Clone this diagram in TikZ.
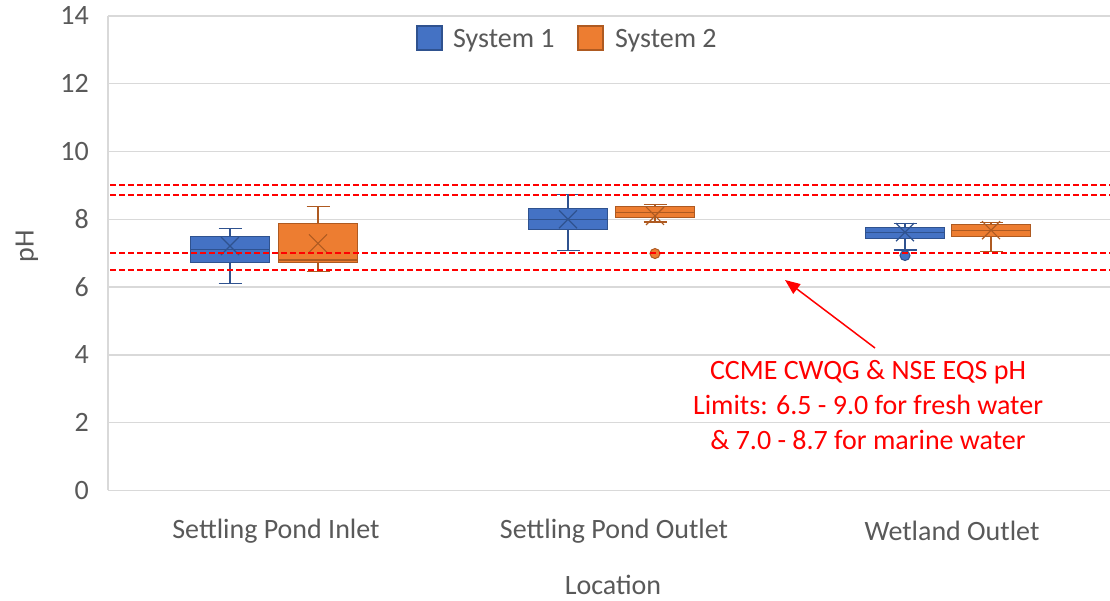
\documentclass[tikz,border=0pt]{standalone}
\usepackage{fontspec}
\setmainfont{Carlito}
\usetikzlibrary{arrows.meta}
\definecolor{txt}{HTML}{595959}
\definecolor{gridc}{HTML}{D9D9D9}
\definecolor{bfill}{HTML}{4472C4}
\definecolor{bline}{HTML}{2F528F}
\definecolor{ofill}{HTML}{ED7D31}
\definecolor{oline}{HTML}{AE5A21}
\definecolor{limred}{HTML}{FF0000}
\tikzset{
  lbl/.style={font=\fontsize{28}{34}\selectfont, text=txt, inner sep=0pt},
  gridline/.style={draw=gridc, line width=1.5pt},
  limit/.style={draw=limred, line width=1.6pt, dash pattern=on 6pt off 3pt},
  boxB/.style={fill=bfill, draw=bline, line width=1.2pt},
  boxO/.style={fill=ofill, draw=oline, line width=1.2pt},
  lineB/.style={draw=bline, line width=1.6pt},
  lineO/.style={draw=oline, line width=1.6pt},
  meanB/.style={draw=bline, line width=1.2pt},
  meanO/.style={draw=oline, line width=1.2pt},
  outB/.style={fill=bfill, draw=bline, line width=1pt},
  outO/.style={fill=ofill, draw=oline, line width=1pt},
}
% #1 cx, #2 min, #3 q1, #4 med, #5 q3, #6 max, #7 mean, #8 B/O
\newcommand\bxplot[8]{%
  \draw[line#8] (#1,#2) -- (#1,#3) (#1,#5) -- (#1,#6)
    (#1-11.5,#2) -- (#1+11.5,#2) (#1-11.5,#6) -- (#1+11.5,#6);
  \filldraw[box#8] (#1-39.5,#3) rectangle (#1+39.5,#5);
  \draw[mean#8] (#1-39.5,#4) -- (#1+39.5,#4);
  \draw[mean#8] (#1,#7) ++(-9pt,-9pt) -- ++(18pt,18pt)
    (#1,#7) ++(-9pt,9pt) -- ++(18pt,-18pt);
}
\begin{document}
\begin{tikzpicture}[x=1pt,y=1pt]
\useasboundingbox[fill=white] (0,0) rectangle (1110,601);
\begin{scope}[y=33.9pt, yshift=110.5pt]
  % grid
  \foreach \v in {2,4,...,14} \draw[gridline] (108,\v) -- (1110,\v);
  \draw[gridline] (108,0) -- (1110,0);
  \draw[gridline] (108,0) -- (108,14);
  \foreach \v in {0,2,...,14} \node[lbl, anchor=east] (t\v) at (89,\v) {\v};
  % boxes
  \bxplot{230}{6.11}{6.73}{7.11}{7.49}{7.73}{7.21}{B}
  \bxplot{318}{6.46}{6.73}{6.80}{7.88}{8.38}{7.29}{O}
  \bxplot{568}{7.08}{7.70}{7.99}{8.32}{8.73}{8.00}{B}
  \bxplot{655}{7.92}{8.05}{8.20}{8.38}{8.44}{8.10}{O}
  \bxplot{905}{7.10}{7.43}{7.60}{7.76}{7.87}{7.62}{B}
  \bxplot{991}{7.05}{7.49}{7.67}{7.85}{7.90}{7.68}{O}
  \filldraw[outO] (655,6.99) circle (5pt);
  \filldraw[outB] (905,6.93) circle (5pt);
  % limit lines
  \draw[limit] (110,6.5) -- (1110,6.5) (110,7.0) -- (1110,7.0)
               (110,8.72) -- (1110,8.72) (110,9.02) -- (1110,9.02);
\end{scope}
% axis labels
\node[lbl] (c1) at (276,70) {Settling Pond Inlet};
\node[lbl] (c2) at (614,70) {Settling Pond Outlet};
\node[lbl] (c3) at (952,70) {Wetland Outlet};
\node[lbl] (xl) at (613,16) {Location};
\node[lbl, rotate=90] (yl) at (27,355) {pH};
% legend
\node[boxB, minimum width=25pt, minimum height=24pt, inner sep=0pt] (lg1) at (429.5,563) {};
\node[lbl, anchor=west] (lt1) at (453,560) {System 1};
\node[boxO, minimum width=25pt, minimum height=24pt, inner sep=0pt] (lg2) at (590.5,563) {};
\node[lbl, anchor=west] (lt2) at (615,560) {System 2};
% annotation
\node[lbl, text=limred, align=center, font=\fontsize{28}{35}\selectfont] (ann) at (868,196)
  {CCME CWQG \& NSE EQS pH\\Limits: 6.5 - 9.0 for fresh water\\\& 7.0 - 8.7 for marine water};
\coordinate (astart) at (875,253);
\coordinate (atip) at (785,321);
\draw[draw=limred, line width=1.5pt, -{Triangle[length=15pt,width=12pt]}] (astart) -- (atip);
\end{tikzpicture}
\end{document}
